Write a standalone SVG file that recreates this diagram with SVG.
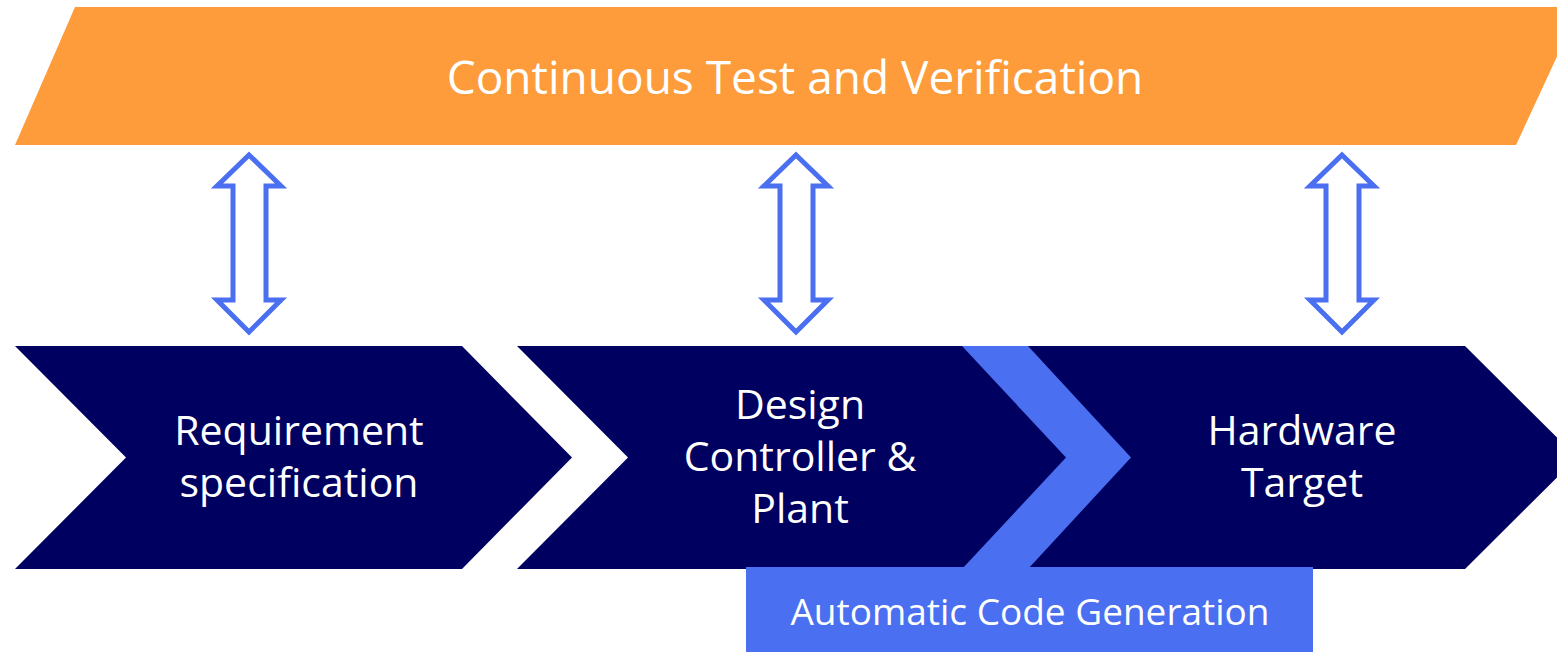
<svg xmlns="http://www.w3.org/2000/svg" width="1557" height="652" viewBox="0 0 1557 652">
  <style>
    .banner { fill: #FE9B3A; }
    .step { fill: #000060; }
    .accent { fill: #4A6FF0; }
    .dbl { fill: #FFFFFF; stroke: #4A6FF0; stroke-width: 5; stroke-linejoin: miter; }
    .lbl { font-family: "Open Sans", "Liberation Sans", sans-serif; fill: #FFFFFF; text-anchor: middle; }
    .step-lbl { font-size: 41px; }
  </style>
  <defs>
    <!-- double-headed hollow arrow, centred on x=0 -->
    <polygon id="dblArrow" points="0,155 32,186 17,186 17,300 32,300 0,332 -32,300 -16,300 -16,186 -32,186"/>
  </defs>

  <g id="banner">
    <polygon class="banner" points="75,7 1580,7 1516,145 15,145"/>
    <text class="lbl" x="795" y="94" font-size="46">Continuous Test and Verification</text>
  </g>

  <g id="connectors">
    <use href="#dblArrow" class="dbl" x="249"/>
    <use href="#dblArrow" class="dbl" x="796"/>
    <use href="#dblArrow" class="dbl" x="1342"/>
  </g>

  <g id="requirement">
    <polygon class="step" points="15,346 462,346 572,457.5 462,569 15,569 126,457.5"/>
    <text class="lbl step-lbl"><tspan x="299" y="445">Requirement</tspan><tspan x="299" y="497">specification</tspan></text>
  </g>

  <g id="design">
    <polygon class="step" points="517,346 966,346 1073,457.5 966,569 517,569 628,457.5"/>
    <text class="lbl step-lbl"><tspan x="800" y="419">Design</tspan><tspan x="800" y="471">Controller &amp;</tspan><tspan x="800" y="523">Plant</tspan></text>
  </g>

  <g id="hardware">
    <polygon class="step" points="1000,346 1465,346 1577,457.5 1465,569 1000,569 1100,457.5"/>
    <text class="lbl step-lbl"><tspan x="1302" y="445">Hardware</tspan><tspan x="1302" y="497">Target</tspan></text>
  </g>

  <g id="codegen">
    <polygon class="accent" points="962,346 1028,346 1131,457.5 1028,569 962,569 1066,457.5"/>
    <rect class="accent" x="746" y="567" width="567" height="85"/>
    <text class="lbl" x="1030" y="625" font-size="37">Automatic Code Generation</text>
  </g>
</svg>
